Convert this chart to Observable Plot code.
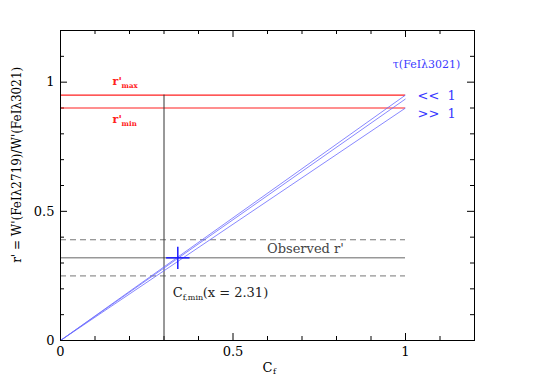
<!DOCTYPE html>
<html><head><meta charset="utf-8">
<script src="https://cdn.jsdelivr.net/npm/d3@7"></script>
<script src="https://cdn.jsdelivr.net/npm/@observablehq/plot@0.6"></script>
<style>body{margin:0;background:#fff}</style>
</head><body><div id="chart"></div>
<script>
const xDomain = [0, 1.2];
const yDomain = [0, 1.2];
const majorTicks = [0, 0.5, 1];
const minorTicks = [0.1, 0.2, 0.3, 0.4, 0.6, 0.7, 0.8, 0.9, 1.1];
const redLevels = [0.95, 0.90];          // r'max, r'min
const blueSlopes = [0.95, 0.935, 0.90];  // model lines ending at Cf = 1
const observedR = [0.32];
const observedBand = [0.25, 0.39];
const cfMin = [0.30];
const cfMinTop = 0.95;
const points = [{x: 0.34, y: 0.32, xerr: 0.034, yerr: 0.043}];

const W = 540, H = 382, mL = 60, mR = 66, mT = 30, mB = 42;
const pw = W - mL - mR, ph = H - mT - mB;
const serif = "DejaVu Serif, Liberation Serif, serif";
const blue = "#3a3aff", red = "#ff2020";

const chart = Plot.plot({
  width: W, height: H,
  marginLeft: mL, marginRight: mR, marginTop: mT, marginBottom: mB,
  style: {fontFamily: serif, fontSize: "13px", background: "#fff"},
  x: {domain: xDomain, label: null},
  y: {domain: yDomain, label: null},
  marks: [
    // ticks (inward, mirrored)
    Plot.tickX(majorTicks, {x: d => d, insetTop: ph - 7, stroke: "#000"}),
    Plot.tickX(minorTicks, {x: d => d, insetTop: ph - 4, stroke: "#000"}),
    Plot.tickX(majorTicks, {x: d => d, insetBottom: ph - 7, stroke: "#000"}),
    Plot.tickX(minorTicks, {x: d => d, insetBottom: ph - 4, stroke: "#000"}),
    Plot.tickY(majorTicks, {y: d => d, insetRight: pw - 7, stroke: "#000"}),
    Plot.tickY(minorTicks, {y: d => d, insetRight: pw - 4, stroke: "#000"}),
    Plot.tickY(majorTicks, {y: d => d, insetLeft: pw - 7, stroke: "#000"}),
    Plot.tickY(minorTicks, {y: d => d, insetLeft: pw - 4, stroke: "#000"}),
    Plot.axisX({ticks: majorTicks, tickSize: 0, tickPadding: 6, tickFormat: d => String(d), fontSize: 13, label: null}),
    Plot.axisY({ticks: majorTicks, tickSize: 0, tickPadding: 6, tickFormat: d => String(d), fontSize: 13, label: null}),
    // observed band
    Plot.ruleY(observedBand, {y: d => d, x1: 0, x2: 1, stroke: "#777", strokeDasharray: "6,4"}),
    Plot.ruleY(observedR, {y: d => d, x1: 0, x2: 1, stroke: "#666"}),
    // red levels
    Plot.ruleY(redLevels, {y: d => d, x1: 0, x2: 1, stroke: red, strokeWidth: 1.2}),
    // Cf,min vertical
    Plot.ruleX(cfMin, {x: d => d, y1: 0, y2: cfMinTop, stroke: "#333"}),
    // model lines
    Plot.link(blueSlopes, {x1: 0, y1: 0, x2: 1, y2: d => d, stroke: "#6a6aff", strokeWidth: 0.8}),
    // observed point with error cross
    Plot.link(points, {x1: d => d.x - d.xerr, x2: d => d.x + d.xerr, y1: d => d.y, y2: d => d.y, stroke: "#1a1aff", strokeWidth: 1.5}),
    Plot.link(points, {x1: d => d.x, x2: d => d.x, y1: d => d.y - d.yerr, y2: d => d.y + d.yerr, stroke: "#1a1aff", strokeWidth: 1.5}),
    Plot.frame({stroke: "#000"}),
    // annotations
    Plot.text(["Observed r'"], {x: 0.71, y: 0.353, fill: "#444", fontSize: 13, text: d => d}),
    Plot.text(["C"], {x: 0.325, y: 0.186, textAnchor: "start", fill: "#222", fontSize: 13, text: d => d}),
    Plot.text(["f,min"], {x: 0.325, y: 0.186, dx: 10, dy: 5, textAnchor: "start", fill: "#222", fontSize: 8, text: d => d}),
    Plot.text(["(x = 2.31)"], {x: 0.325, y: 0.186, dx: 30, textAnchor: "start", fill: "#222", fontSize: 13, text: d => d}),
    Plot.text(["r'"], {x: 0.151, y: 1.002, textAnchor: "start", fill: red, fontSize: 11, fontWeight: "bold", text: d => d}),
    Plot.text(["max"], {x: 0.151, y: 1.002, dx: 9, dy: 4, textAnchor: "start", fill: red, fontSize: 7, fontWeight: "bold", text: d => d}),
    Plot.text(["r'"], {x: 0.151, y: 0.854, textAnchor: "start", fill: red, fontSize: 11, fontWeight: "bold", text: d => d}),
    Plot.text(["min"], {x: 0.151, y: 0.854, dx: 9, dy: 4, textAnchor: "start", fill: red, fontSize: 7, fontWeight: "bold", text: d => d}),
    Plot.text(["τ(FeIλ3021)"], {x: 1.061, y: 1.068, fill: blue, fontSize: 11, text: d => d}),
    Plot.text(["<<  1"], {x: 1.035, y: 0.948, textAnchor: "start", fill: blue, fontSize: 13, text: d => d}),
    Plot.text([">>  1"], {x: 1.035, y: 0.878, textAnchor: "start", fill: blue, fontSize: 13, text: d => d}),
    Plot.text(["C"], {x: 0.6, y: 0, dy: 27, fill: "#000", fontSize: 13, text: d => d}),
    Plot.text(["f"], {x: 0.6, y: 0, dy: 31, dx: 7, fill: "#000", fontSize: 8, text: d => d}),
    Plot.text(["r' = W'(FeIλ2719)/W'(FeIλ3021)"], {x: -0.125, y: 0.68, rotate: -90, fill: "#000", fontSize: 12, text: d => d})
  ]
});
document.getElementById("chart").appendChild(chart);
</script>
</body></html>
